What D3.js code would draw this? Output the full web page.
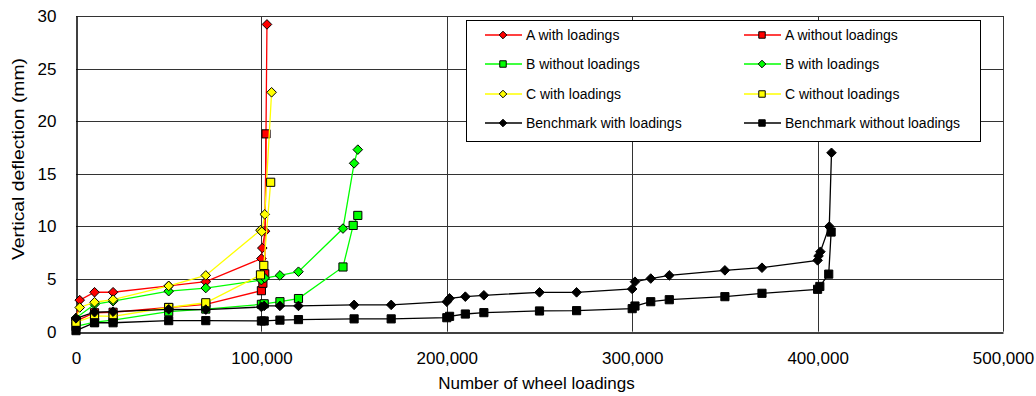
<!DOCTYPE html>
<html>
<head>
    <script src="https://d3js.org/d3.v7.min.js"></script>
    <title>Vertical deflection vs wheel loadings</title>
    <style>
        body { margin: 0; background: #fff; }
        text { font-family: "Liberation Sans", Arial, sans-serif; fill: #000; }
    </style>
</head>
<body>
    <svg id="plot" height="396" width="1036"></svg>
    <script>
        // data: [wheel loadings, deflection mm]
        const aWith = [[0,1.2],[2000,3.0],[10000,3.75],[20000,3.75],[50000,4.35],[70000,4.75],[100000,6.95],[100500,7.95],[102000,9.55],[103000,29.2]];
        const aWithout = [[0,1.0],[10000,1.8],[20000,1.85],[50000,2.3],[70000,2.6],[100000,3.9],[100800,4.6],[101800,5.5],[102500,18.8]];
        const bWithout = [[0,0.5],[10000,0.9],[20000,1.1],[50000,1.9],[70000,2.15],[100000,2.6],[101500,2.65],[110000,2.85],[120000,3.15],[144000,6.15],[149500,10.1],[152000,11.05]];
        const bWith = [[0,1.3],[10000,2.6],[20000,2.9],[50000,3.85],[70000,4.15],[100000,4.9],[101800,5.1],[110000,5.35],[120000,5.7],[144000,9.8],[150000,16.0],[152000,17.3]];
        const cWith = [[0,1.1],[2000,2.3],[10000,2.8],[20000,3.05],[50000,4.35],[70000,5.35],[99500,9.65],[100200,9.5],[101800,11.15],[105500,22.75]];
        const cWithout = [[0,0.9],[10000,1.5],[20000,1.45],[50000,2.3],[70000,2.75],[99500,5.4],[101300,6.3],[105000,14.2]];
        const benchWith = [[0,1.27],[10000,1.85],[20000,1.9],[50000,2.13],[70000,2.1],[100000,2.35],[101500,2.45],[110000,2.45],[120000,2.45],[150000,2.55],[170000,2.55],[200000,2.85],[201500,3.17],[210000,3.33],[220000,3.46],[250000,3.74],[270000,3.74],[300000,4.06],[301500,4.75],[310000,5.05],[320000,5.35],[350000,5.83],[370000,6.08],[400000,6.78],[400500,7.2],[401500,7.6],[406300,10.0],[407500,17.0]];
        const benchWithout = [[0,0.1],[10000,0.85],[20000,0.85],[50000,1.05],[70000,1.05],[100000,1.02],[101500,1.02],[110000,1.1],[120000,1.15],[150000,1.22],[170000,1.22],[200000,1.33],[201500,1.46],[210000,1.68],[220000,1.81],[250000,1.97],[270000,2.0],[300000,2.19],[301500,2.44],[310000,2.85],[320000,3.04],[350000,3.33],[370000,3.65],[400000,4.03],[401200,4.3],[406000,5.47],[407300,9.47]];

        const seriesNames = ['A with loadings', 'A without loadings', 'B without loadings', 'B with loadings',
                             'C with loadings', 'C without loadings', 'Benchmark with loadings', 'Benchmark without loadings'];
        const seriesData = [aWith, aWithout, bWithout, bWith, cWith, cWithout, benchWith, benchWithout];
        const seriesColors = ['#ff0000', '#ff0000', '#00ff00', '#00ff00', '#ffff00', '#ffff00', '#000000', '#000000'];
        const seriesMarkers = ['diamond', 'square', 'square', 'diamond', 'diamond', 'square', 'diamond', 'square'];

        const xTicks = [0, 100000, 200000, 300000, 400000, 500000];
        const yTicks = [0, 5, 10, 15, 20, 25, 30];

        const svg = d3.select('svg#plot');
        const margin = {top: 16, right: 33, bottom: 64.3, left: 76};
        const width = +svg.attr('width');
        const height = +svg.attr('height');

        const x = d3.scaleLinear().domain([0, 500000]).range([margin.left, width - margin.right]);
        const y = d3.scaleLinear().domain([0, 30]).range([height - margin.bottom, margin.top]);

        // gridlines
        svg.append('g').selectAll('line.h')
            .data(yTicks.slice(1))
            .join('line')
            .attr('x1', x(0)).attr('x2', x(500000))
            .attr('y1', d => Math.round(y(d)) + 0.5).attr('y2', d => Math.round(y(d)) + 0.5)
            .style('stroke', '#333').style('stroke-width', 1);
        svg.append('g').selectAll('line.v')
            .data(xTicks.slice(1))
            .join('line')
            .attr('x1', d => Math.round(x(d)) + 0.5).attr('x2', d => Math.round(x(d)) + 0.5)
            .attr('y1', y(0)).attr('y2', y(30))
            .style('stroke', '#333').style('stroke-width', 1);

        // axes
        const yAxis = svg.append('g')
            .attr('transform', `translate(${Math.round(x(0)) + 0.5},0)`)
            .call(d3.axisLeft(y).tickValues(yTicks).tickSize(0).tickPadding(20));
        const xAxis = svg.append('g')
            .attr('transform', `translate(0,${Math.round(y(0)) + 0.5})`)
            .call(d3.axisBottom(x).tickValues(xTicks).tickSize(0).tickPadding(19).tickFormat(d3.format(',')));
        [yAxis, xAxis].forEach(a => {
            a.select('.domain').style('stroke', '#000').style('stroke-width', 1.5);
            a.selectAll('text').style('font-size', '17px').style('font-family', '"Liberation Sans", Arial, sans-serif');
        });

        // axis titles
        svg.append('text')
            .attr('text-anchor', 'middle')
            .attr('x', x(250000) - 3)
            .attr('y', 389)
            .style('font-size', '17px')
            .text('Number of wheel loadings');
        svg.append('text')
            .attr('text-anchor', 'middle')
            .attr('transform', 'translate(24,159) rotate(-90)')
            .style('font-size', '17px')
            .attr('textLength', 202)
            .attr('lengthAdjust', 'spacingAndGlyphs')
            .text('Vertical deflection (mm)');

        function markerPath(type, r) {
            if (type === 'diamond') return `M0,${-r}L${r},0L0,${r}L${-r},0Z`;
            const s = r * 0.85;
            return `M${-s},${-s}H${s}V${s}H${-s}Z`;
        }

        const line = d3.line().x(d => x(d[0])).y(d => y(d[1]));

        seriesData.forEach((data, i) => {
            const g = svg.append('g');
            g.append('path')
                .datum(data)
                .attr('d', line)
                .style('fill', 'none')
                .style('stroke', seriesColors[i])
                .style('stroke-width', 1.3);
            g.selectAll('path.mark')
                .data(data)
                .join('path')
                .attr('class', 'mark')
                .attr('transform', d => `translate(${x(d[0])},${y(d[1])})`)
                .attr('d', markerPath(seriesMarkers[i], 4.8))
                .style('fill', seriesColors[i])
                .style('stroke', '#000')
                .style('stroke-width', 1);
        });

        // legend
        const legend = svg.append('g');
        legend.append('rect')
            .attr('x', 466.5).attr('y', 20.5)
            .attr('width', 514).attr('height', 121)
            .style('fill', '#fff').style('stroke', '#000').style('stroke-width', 1);
        const colX = [485, 744];
        const rowY = [35, 64, 94, 123];
        seriesNames.forEach((name, i) => {
            const cx = colX[i % 2];
            const cy = rowY[Math.floor(i / 2)];
            legend.append('line')
                .attr('x1', cx).attr('x2', cx + 37)
                .attr('y1', cy).attr('y2', cy)
                .style('stroke', seriesColors[i] === '#ffff00' ? '#ffff00' : seriesColors[i])
                .style('stroke-width', 1.3);
            legend.append('path')
                .attr('transform', `translate(${cx + 18},${cy})`)
                .attr('d', markerPath(seriesMarkers[i], 3.8))
                .style('fill', seriesColors[i])
                .style('stroke', '#000')
                .style('stroke-width', 1);
            legend.append('text')
                .attr('x', cx + 41)
                .attr('y', cy)
                .attr('dy', '0.35em')
                .style('font-size', '14px')
                .text(name);
        });
    </script>
</body>
</html>
